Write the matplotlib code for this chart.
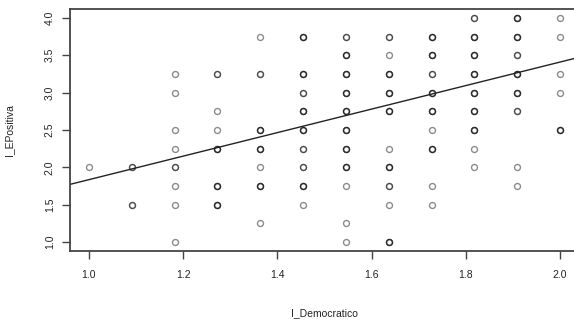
import numpy as np
import matplotlib.pyplot as plt

plt.rcParams['font.family'] = ['Liberation Sans', 'DejaVu Sans']

# Niveis discretos do indice democratico (passo de 1/11)
x_levels = [1.0, 1.0909, 1.1818, 1.2727, 1.3636, 1.4545,
            1.5455, 1.6364, 1.7273, 1.8182, 1.9091, 2.0]

# Valores de I_EPositiva observados em cada nivel, com a contagem de repeticoes
y_by_level = [
    [2.0],
    [2.0, 1.5],
    [3.25, 3.0, 2.5, 2.25, 2.0, 1.75, 1.5, 1.0],
    [3.25, 2.75, 2.5, 2.25, 1.75, 1.5],
    [3.75, 3.25, 2.5, 2.25, 2.0, 1.75, 1.25],
    [3.75, 3.25, 3.0, 2.75, 2.5, 2.25, 2.0, 1.75, 1.5],
    [3.75, 3.5, 3.25, 3.0, 2.75, 2.5, 2.25, 2.0, 1.75, 1.25, 1.0],
    [3.75, 3.5, 3.25, 3.0, 2.75, 2.25, 2.0, 1.75, 1.5, 1.0],
    [3.75, 3.5, 3.25, 3.0, 2.75, 2.5, 2.25, 1.75, 1.5],
    [4.0, 3.75, 3.5, 3.25, 3.0, 2.75, 2.5, 2.25, 2.0],
    [4.0, 3.75, 3.5, 3.25, 3.0, 2.75, 2.0, 1.75],
    [4.0, 3.75, 3.25, 3.0, 2.5],
]
n_by_level = [
    [1],
    [2, 2],
    [1, 1, 1, 1, 2, 1, 1, 1],
    [2, 1, 1, 3, 3, 3],
    [1, 2, 3, 3, 1, 3, 1],
    [3, 3, 2, 3, 3, 2, 2, 3, 1],
    [2, 3, 3, 3, 3, 3, 3, 3, 1, 1, 1],
    [2, 1, 3, 3, 3, 1, 3, 2, 1, 3],
    [3, 3, 2, 3, 3, 1, 3, 1, 1],
    [2, 3, 3, 3, 3, 3, 3, 1, 1],
    [3, 3, 2, 3, 3, 2, 1, 1],
    [1, 1, 1, 1, 3],
]

# Reta de regressao (abline)
intercept = 0.26
slope = 1.575

x_pts, y_pts = [], []
for xv, ys, ns in zip(x_levels, y_by_level, n_by_level):
    for yv, n in zip(ys, ns):
        x_pts += [xv] * n
        y_pts += [yv] * n

fig = plt.figure(figsize=(5.74, 3.24), dpi=100)
ax = fig.add_axes([70 / 574, 73 / 324, 509 / 574, 242 / 324])

ax.plot(x_pts, y_pts, 'o', markersize=4.3, markerfacecolor='none',
        markeredgecolor='black', markeredgewidth=1.0, alpha=0.45,
        linestyle='none')

xx = np.array([0.9, 2.1])
ax.plot(xx, intercept + slope * xx, color='#222222', linewidth=1.0)

ax.set_xlim(0.96, 2.04)
ax.set_ylim(0.88, 4.12)
ax.set_xticks(np.arange(1.0, 2.01, 0.2))
ax.set_yticks(np.arange(1.0, 4.01, 0.5))
ax.set_xticklabels([f"{v:.1f}" for v in np.arange(1.0, 2.01, 0.2)])
ax.set_yticklabels([f"{v:.1f}" for v in np.arange(1.0, 4.01, 0.5)],
                   rotation=90, va='center')

for sp in ax.spines.values():
    sp.set_color('#444444')
    sp.set_linewidth(1.3)

ax.tick_params(axis='both', direction='out', length=6, width=1.0,
               color='#444444', labelsize=7.5, labelcolor='#222222')
ax.tick_params(axis='x', pad=8)
ax.tick_params(axis='y', pad=5)

ax.set_xlabel('I_Democratico', fontsize=7.5, labelpad=20, color='#222222')
ax.set_ylabel('I_EPositiva', fontsize=7.5, labelpad=22, color='#222222')

fig.savefig('out.png', dpi=100)
